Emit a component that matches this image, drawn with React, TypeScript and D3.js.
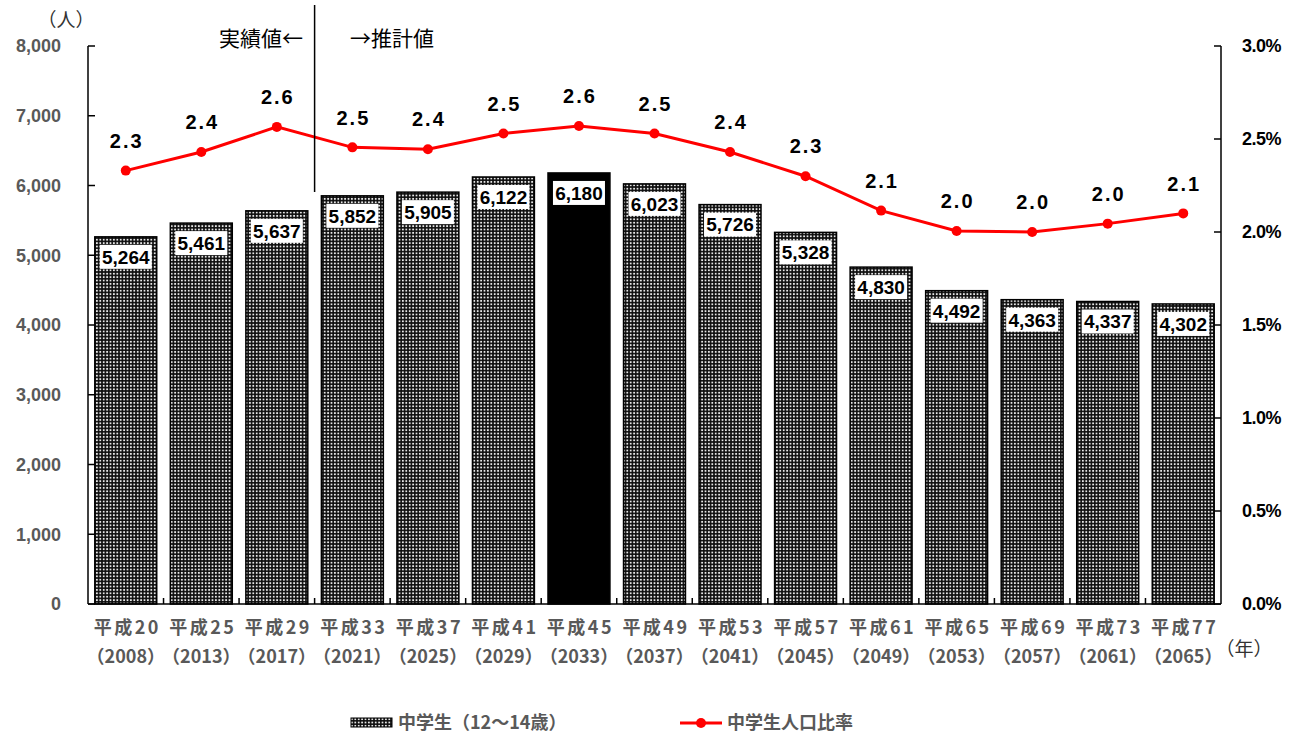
import * as d3 from "d3"

const eras = ["平成20", "平成25", "平成29", "平成33", "平成37", "平成41", "平成45", "平成49", "平成53", "平成57", "平成61", "平成65", "平成69", "平成73", "平成77"]
const years = ["2008", "2013", "2017", "2021", "2025", "2029", "2033", "2037", "2041", "2045", "2049", "2053", "2057", "2061", "2065"]
const students = [5264, 5461, 5637, 5852, 5905, 6122, 6180, 6023, 5726, 5328, 4830, 4492, 4363, 4337, 4302]
const ratio = [2.33, 2.43, 2.565, 2.455, 2.445, 2.53, 2.57, 2.53, 2.43, 2.3, 2.115, 2.005, 2.0, 2.045, 2.1]
const ratioLabels = ["2.3", "2.4", "2.6", "2.5", "2.4", "2.5", "2.6", "2.5", "2.4", "2.3", "2.1", "2.0", "2.0", "2.0", "2.1"]
const leftTicks = [0, 1000, 2000, 3000, 4000, 5000, 6000, 7000, 8000]
const rightTicks = [0, 0.5, 1.0, 1.5, 2.0, 2.5, 3.0]
const highlight = 6

const W = 1295
const H = 735
const left = 88
const right = 1221
const top = 46
const bottom = 604

const GRAY = "#595959"
const JP = "'Noto Sans CJK JP', sans-serif"
const NUM = "'Liberation Sans', Arial, sans-serif"

export default function App() {
  const x = d3.scaleBand<number>()
    .domain(d3.range(eras.length))
    .range([left, right])
    .paddingInner(0.18)
    .paddingOuter(0.09)
  const step = x.step()
  const bw = x.bandwidth()
  const y = d3.scaleLinear().domain([0, 8000]).range([bottom, top])
  const y2 = d3.scaleLinear().domain([0, 3]).range([bottom, top])

  const line = d3.line<number>()
    .x((_, i) => (x(i) || 0) + bw / 2)
    .y((d) => y2(d))

  const boundary = (i: number) => left + step * i

  return (
    <svg width={W} height={H} style={{ position: "absolute", left: 0, top: 0, background: "#fff" }}>
      <defs>
        <pattern id="dots" patternUnits="userSpaceOnUse" width="3.4" height="3.4">
          <rect width="3.4" height="3.4" fill="#0e0e0e" />
          <rect x="0.8" y="0.8" width="1.8" height="1.8" fill="#e6e6e6" />
        </pattern>
      </defs>

      {/* bars */}
      {students.map((v, i) => (
        <rect key={"b" + i} x={x(i)} y={y(v)} width={bw} height={bottom - y(v)}
          fill={i === highlight ? "#000" : "url(#dots)"} stroke="#000" strokeWidth={1.5} />
      ))}

      {/* bar labels */}
      {students.map((v, i) => {
        const cx = (x(i) || 0) + bw / 2
        const cy = y(v) + 20
        return (
          <g key={"bl" + i}>
            <rect x={cx - 26} y={cy - 12} width={52} height={24} fill="#fff" />
            <text x={cx} y={cy} dy="0.36em" textAnchor="middle" fontFamily={NUM} fontWeight="bold" fontSize={19} fill="#000">
              {d3.format(",")(v)}
            </text>
          </g>
        )
      })}

      {/* axes */}
      <line x1={left} x2={left} y1={top} y2={bottom} stroke="#000" strokeWidth={1.5} />
      <line x1={right} x2={right} y1={top} y2={bottom} stroke="#000" strokeWidth={1.5} />
      <line x1={left} x2={right} y1={bottom} y2={bottom} stroke="#000" strokeWidth={1.5} />
      {leftTicks.map((t) => (
        <g key={"lt" + t}>
          <line x1={left} x2={left + 7} y1={y(t)} y2={y(t)} stroke="#000" strokeWidth={1.5} />
          <text x={61} y={y(t)} dy="0.36em" textAnchor="end" fontFamily={NUM} fontWeight="bold" fontSize={18} fill={GRAY}>
            {d3.format(",")(t)}
          </text>
        </g>
      ))}
      {rightTicks.map((t) => (
        <g key={"rt" + t}>
          <line x1={right - 7} x2={right} y1={y2(t)} y2={y2(t)} stroke="#000" strokeWidth={1.5} />
          <text x={1242} y={y2(t)} dy="0.36em" fontFamily={NUM} fontWeight="bold" fontSize={18} fill="#000" letterSpacing={-0.5}>
            {t.toFixed(1) + "%"}
          </text>
        </g>
      ))}
      {d3.range(1, eras.length).map((i) => (
        <line key={"xt" + i} x1={boundary(i)} x2={boundary(i)} y1={bottom - 6} y2={bottom} stroke="#000" strokeWidth={1.5} />
      ))}

      {/* x labels */}
      {eras.map((e, i) => {
        const cx = (x(i) || 0) + bw / 2
        return (
          <g key={"xl" + i} fontFamily={JP} fontWeight="bold" fill={GRAY}>
            <text x={cx + 1.5} y={628} dy="0.36em" textAnchor="middle" fontSize={18} letterSpacing={2.5}>{e}</text>
            <text x={cx} y={657} dy="0.36em" textAnchor="middle" fontSize={18}>{"（" + years[i] + "）"}</text>
          </g>
        )
      })}

      {/* ratio line */}
      <path d={line(ratio) || ""} fill="none" stroke="#ff0000" strokeWidth={3} />
      {ratio.map((r, i) => (
        <circle key={"p" + i} cx={(x(i) || 0) + bw / 2} cy={y2(r)} r={5} fill="#ff0000" />
      ))}
      {ratio.map((r, i) => (
        <text key={"pl" + i} x={(x(i) || 0) + bw / 2 + 1} y={y2(r) - 30} dy="0.36em" textAnchor="middle"
          fontFamily={NUM} fontWeight="bold" fontSize={20} letterSpacing={2} fill="#000">
          {ratioLabels[i]}
        </text>
      ))}

      {/* divider */}
      <line x1={boundary(3)} x2={boundary(3)} y1={5} y2={192} stroke="#000" strokeWidth={1.5} />
      <text x={303} y={38} dy="0.36em" textAnchor="end" fontFamily={JP} fontSize={21} fill="#000">実績値←</text>
      <text x={350} y={38} dy="0.36em" fontFamily={JP} fontSize={21} fill="#000">→推計値</text>

      {/* units */}
      <text x={66} y={20} dy="0.36em" textAnchor="middle" fontFamily={JP} fontSize={19} fill="#333">（人）</text>
      <text x={1244} y={649} dy="0.36em" textAnchor="middle" fontFamily={JP} fontSize={19} fill="#333">（年）</text>

      {/* legend */}
      <rect x={351} y={718} width={41} height={9} fill="url(#dots)" stroke="#000" strokeWidth={1} />
      <text x={398} y={723} dy="0.36em" fontFamily={JP} fontWeight="bold" fontSize={18} fill={GRAY}>中学生（12～14歳）</text>
      <line x1={680} x2={722} y1={723} y2={723} stroke="#ff0000" strokeWidth={3} />
      <circle cx={701} cy={723} r={5} fill="#ff0000" />
      <text x={727} y={723} dy="0.36em" fontFamily={JP} fontWeight="bold" fontSize={18} fill={GRAY}>中学生人口比率</text>
    </svg>
  )
}
